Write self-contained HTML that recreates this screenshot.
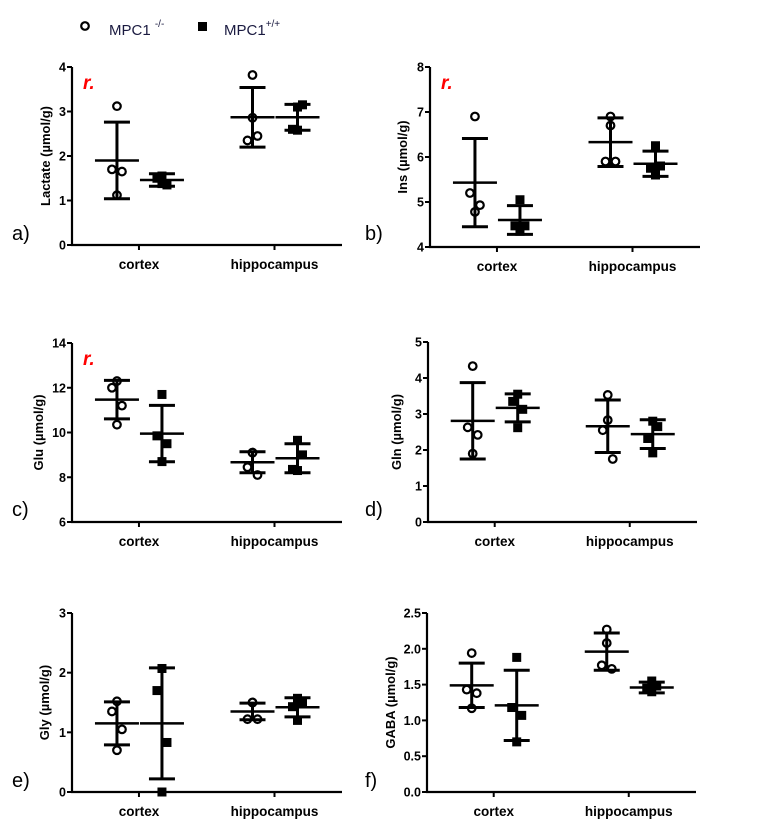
<!DOCTYPE html>
<html><head><meta charset="utf-8"><style>
body{margin:0;background:#fff;}
svg{display:block;font-family:"Liberation Sans",Arial,sans-serif;}
</style></head><body>
<svg id="fig" width="759" height="836" viewBox="0 0 759 836">
<g>
  <circle cx="85" cy="26" r="3.8" fill="#fff" stroke="#000" stroke-width="2.2"/>
  <text x="109" y="35" font-size="15" fill="#1a1a40">MPC1 <tspan font-size="10" dy="-8">-/-</tspan></text>
  <rect x="198" y="22" width="9" height="9" fill="#000"/>
  <text x="224" y="35" font-size="15" fill="#1a1a40">MPC1<tspan font-size="10" dy="-8">+/+</tspan></text>
</g>
</svg>
<script>
const categories = ["cortex", "hippocampus"];
const panelNames = ["a)", "b)", "c)", "d)", "e)", "f)"];
const yTitles = ["Lactate (µmol/g)", "Ins (µmol/g)", "Glu (µmol/g)", "Gln (µmol/g)", "Gly (µmol/g)", "GABA (µmol/g)"];
const yTickLabels = [
  ["0","1","2","3","4"],
  ["4","5","6","7","8"],
  ["6","8","10","12","14"],
  ["0","1","2","3","4","5"],
  ["0","1","2","3"],
  ["0.0","0.5","1.0","1.5","2.0","2.5"]
];
const yMins = [0, 4, 6, 0, 0, 0];
const yMaxs = [4, 8, 14, 5, 3, 2.5];
const showR = [true, true, true, false, false, false];
// points per group: [cortex-ko, cortex-wt, hippo-ko, hippo-wt]
const lactatePts = [[3.12,1.7,1.65,1.12],[1.55,1.5,1.35,1.38],[3.82,2.86,2.35,2.45],[3.1,3.15,2.6,2.58]];
const insPts = [[6.9,5.2,4.93,4.78],[5.05,4.47,4.47,4.35],[6.9,6.7,5.9,5.9],[6.25,5.8,5.75,5.6]];
const gluPts = [[12.3,12.0,11.2,10.35],[11.7,9.85,9.5,8.7],[9.1,9.1,8.45,8.1],[9.65,9.0,8.35,8.3]];
const glnPts = [[4.33,2.63,2.42,1.9],[3.55,3.35,3.13,2.62],[3.53,2.83,2.55,1.75],[2.8,2.65,2.32,1.92]];
const glyPts = [[1.52,1.35,1.05,0.7],[2.07,1.7,0.83,0.0],[1.5,1.5,1.22,1.22],[1.57,1.5,1.43,1.2]];
const gabaPts = [[1.94,1.43,1.38,1.17],[1.88,1.18,1.07,0.7],[2.27,2.08,1.77,1.72],[1.55,1.48,1.45,1.4]];
const lactateMean = [1.9,1.46,2.87,2.87];  const lactateSD = [0.86,0.14,0.67,0.29];
const insMean = [5.43,4.6,6.33,5.85];      const insSD = [0.98,0.32,0.54,0.28];
const gluMean = [11.47,9.95,8.67,8.85];    const gluSD = [0.86,1.26,0.47,0.65];
const glnMean = [2.81,3.17,2.66,2.44];     const glnSD = [1.06,0.39,0.73,0.4];
const glyMean = [1.15,1.15,1.35,1.42];     const glySD = [0.36,0.93,0.14,0.16];
const gabaMean = [1.49,1.21,1.96,1.46];    const gabaSD = [0.31,0.49,0.26,0.075];
const allPts = [lactatePts, insPts, gluPts, glnPts, glyPts, gabaPts];
const allMean = [lactateMean, insMean, gluMean, glnMean, glyMean, gabaMean];
const allSD = [lactateSD, insSD, gluSD, glnSD, glySD, gabaSD];

// layout (not data)
const layout = [
  {x0:72,x1:342,yt:67,yb:245,tx:45,lx:12,ly:240},
  {x0:430,x1:700,yt:67,yb:247,tx:402,lx:365,ly:240},
  {x0:72,x1:342,yt:343,yb:522,tx:38,lx:12,ly:516},
  {x0:428,x1:697,yt:342,yb:522,tx:396,lx:365,ly:516},
  {x0:72,x1:342,yt:613,yb:792,tx:44,lx:12,ly:787},
  {x0:427,x1:696,yt:613,yb:792,tx:390,lx:365,ly:787}
];
const jitter = [[0,-5,5,0],[0,-5,5,0],[0,0,-5,5],[0,5,-5,0]];
const NS = "http://www.w3.org/2000/svg";
const svg = document.getElementById("fig");
function mk(tag, attrs, parent){const e=document.createElementNS(NS,tag);for(const k in attrs)e.setAttribute(k,attrs[k]);parent.appendChild(e);return e;}

for(let p=0;p<6;p++){
  const L=layout[p];
  const g=mk("g",{},svg);
  
  
  const yS=v=>L.yb-(v-yMins[p])/(yMaxs[p]-yMins[p])*(L.yb-L.yt);
  const w=L.x1-L.x0;
  const catX=[L.x0+w*0.248, L.x0+w*0.75];
  const ax=mk("path",{d:`M${L.x0},${L.yt} V${L.yb} H${L.x1}`,fill:"none",stroke:"#000","stroke-width":2.2},g);
  
  
  const ticks=yTickLabels[p];
  for(let i=0;i<ticks.length;i++){
    const v=yMins[p]+i*(yMaxs[p]-yMins[p])/(ticks.length-1);
    const y=yS(v);
    mk("line",{x1:L.x0-5,x2:L.x0,y1:y,y2:y,stroke:"#000","stroke-width":2},g);
    const t=mk("text",{x:L.x0-6,y:y+4.5,"font-size":12.5,"font-weight":"bold","text-anchor":"end"},g);
    t.textContent=ticks[i];
    
    
  }
  for(let c=0;c<2;c++){
    mk("line",{x1:catX[c],x2:catX[c],y1:L.yb,y2:L.yb+5,stroke:"#000","stroke-width":2},g);
    const t=mk("text",{x:catX[c],y:L.yb+24,"font-size":13.5,"font-weight":"bold","text-anchor":"middle"},g);
    t.textContent=categories[c];
    
    
  }
  const yt=mk("text",{transform:`translate(${L.tx+5},${(L.yt+L.yb)/2}) rotate(-90)`,"font-size":13,"font-weight":"bold","text-anchor":"middle"},g);
  yt.textContent=yTitles[p];
  
  
  const pl=mk("text",{x:L.lx,y:L.ly,"font-size":20},g);
  pl.textContent=panelNames[p];
  
  
  if(showR[p]){
    const r=mk("text",{x:L.x0+11,y:L.yt+22,"font-size":19,"font-weight":"bold","font-style":"italic",fill:"#ff0000"},g);
    r.textContent="r.";
    
    
  }
  for(let k=0;k<4;k++){
    const c=Math.floor(k/2), wt=k%2;
    const cx=catX[c]+(wt?23:-22);
    const gg=mk("g",{},g);
    
    
    const m=allMean[p][k], s=allSD[p][k];
    const pts=allPts[p][k];
    for(let i=0;i<pts.length;i++){
      const px=cx+jitter[k][i], py=yS(pts[i]);
      let e;
      if(wt) e=mk("rect",{x:px-4.5,y:py-4.5,width:9,height:9,fill:"#000"},gg);
      else e=mk("circle",{cx:px,cy:py,r:3.8,fill:"#fff",stroke:"#000","stroke-width":2.2},gg);
      
      
    }
    const eb=mk("path",{d:`M${cx},${yS(m-s)} V${yS(m+s)} M${cx-13},${yS(m-s)} H${cx+13} M${cx-13},${yS(m+s)} H${cx+13}`,fill:"none",stroke:"#000","stroke-width":3},gg);
    
    
    const ml=mk("line",{x1:cx-22,x2:cx+22,y1:yS(m),y2:yS(m),stroke:"#000","stroke-width":2.5},gg);
    
    
  }
}
</script>
</body></html>
